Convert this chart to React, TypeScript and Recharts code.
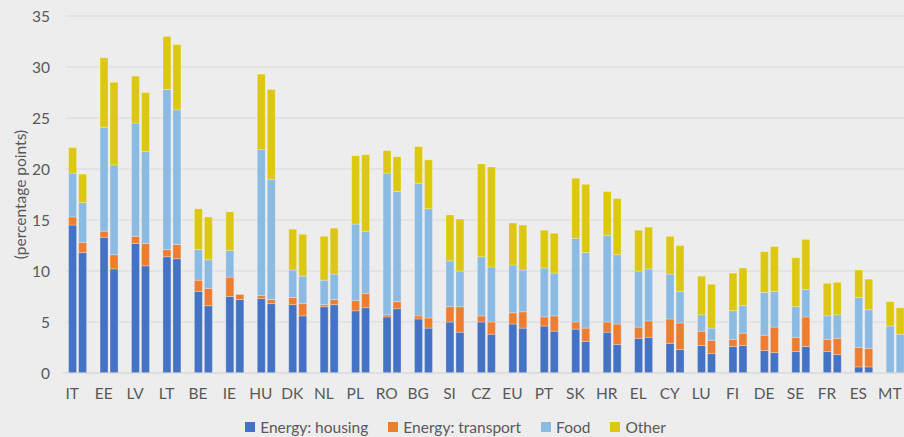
import { BarChart, Bar, CartesianGrid, XAxis, YAxis, Legend } from 'recharts';

const countries = [
  'IT', 'EE', 'LV', 'LT', 'BE', 'IE', 'HU', 'DK', 'NL', 'PL', 'RO', 'BG', 'SI', 'CZ',
  'EU', 'PT', 'SK', 'HR', 'EL', 'CY', 'LU', 'FI', 'DE', 'SE', 'FR', 'ES', 'MT',
];

// first bar of each pair
const housingA = [14.5, 13.3, 12.7, 11.4, 8.0, 7.5, 7.3, 6.7, 6.5, 6.1, 5.5, 5.3, 5.0, 5.0, 4.8, 4.6, 4.3, 4.0, 3.4, 2.9, 2.7, 2.6, 2.2, 2.1, 2.1, 0.6, 0];
const transportA = [0.8, 0.6, 0.7, 0.7, 1.1, 1.9, 0.3, 0.7, 0.2, 1.0, 0.2, 0.3, 1.5, 0.6, 1.1, 0.9, 0.7, 1.0, 1.1, 2.4, 1.4, 0.7, 1.5, 1.4, 1.2, 1.9, 0];
const foodA = [4.3, 10.2, 11.1, 15.7, 3.0, 2.6, 14.3, 2.7, 2.4, 7.5, 13.9, 13.0, 4.5, 5.8, 4.7, 4.8, 8.2, 8.5, 5.5, 4.4, 1.6, 2.8, 4.2, 3.0, 2.3, 4.9, 4.6];
const otherA = [2.5, 6.8, 4.6, 5.2, 4.0, 3.8, 7.4, 4.0, 4.3, 6.7, 2.2, 3.6, 4.5, 9.1, 4.1, 3.7, 5.9, 4.3, 4.0, 3.7, 3.8, 3.7, 4.0, 4.8, 3.2, 2.7, 2.4];

// second bar of each pair
const housingB = [11.8, 10.2, 10.5, 11.2, 6.6, 7.2, 6.8, 5.6, 6.7, 6.4, 6.3, 4.4, 4.0, 3.8, 4.4, 4.1, 3.1, 2.8, 3.5, 2.3, 1.9, 2.7, 2.0, 2.6, 1.8, 0.6, 0];
const transportB = [1.0, 1.4, 2.2, 1.4, 1.7, 0.5, 0.4, 1.2, 0.5, 1.4, 0.7, 1.0, 2.5, 1.2, 1.6, 1.5, 1.3, 2.0, 1.6, 2.6, 1.3, 1.2, 2.5, 2.9, 1.6, 1.8, 0];
const foodB = [3.9, 8.8, 9.0, 13.2, 2.8, 0, 11.8, 2.7, 2.5, 6.1, 10.8, 10.7, 3.5, 5.4, 4.1, 4.2, 7.4, 6.8, 5.1, 3.1, 1.2, 2.7, 3.5, 2.7, 2.3, 3.8, 3.8];
const otherB = [2.8, 8.1, 5.8, 6.4, 4.2, 0, 8.8, 4.1, 4.5, 7.5, 3.4, 4.8, 5.1, 9.8, 4.4, 3.9, 6.7, 5.5, 4.1, 4.5, 4.3, 3.7, 4.4, 4.9, 3.2, 3.0, 2.6];

const yTicks = [0, 5, 10, 15, 20, 25, 30, 35];

const series = [
  { key: 'housing', name: 'Energy: housing', color: '#4472C4' },
  { key: 'transport', name: 'Energy: transport', color: '#ED7D31' },
  { key: 'food', name: 'Food', color: '#8BBAE2' },
  { key: 'other', name: 'Other', color: '#DCC812' },
];

const data = countries.map((c, i) => ({
  country: c,
  housingA: housingA[i],
  transportA: transportA[i],
  foodA: foodA[i],
  otherA: otherA[i],
  housingB: housingB[i],
  transportB: transportB[i],
  foodB: foodB[i],
  otherB: otherB[i],
}));

const font = 'Lato, "Noto Sans", sans-serif';
const textColor = '#595959';

function LegendBox() {
  return (
    <div
      style={{
        display: 'flex',
        justifyContent: 'center',
        alignItems: 'center',
        height: 30,
        paddingTop: 10,
        boxSizing: 'border-box',
        fontFamily: font,
        fontSize: 15.5,
        color: textColor,
      }}
    >
      {series.map((s, i) => (
        <div
          key={s.key}
          style={{ display: 'flex', alignItems: 'center', marginRight: i < series.length - 1 ? 20 : 0 }}
        >
          <span style={{ width: 10, height: 10, background: s.color, marginRight: 5, display: 'inline-block' }} />
          <span>{s.name}</span>
        </div>
      ))}
    </div>
  );
}

// gridlines start a little right of the plot edge, as in the source
const gridLine = (props: any) => (
  <line
    key={`h-${props.y1}`}
    x1={props.x1 + 4}
    x2={props.x2}
    y1={props.y1}
    y2={props.y2}
    stroke="#D9D9D9"
    strokeWidth={1}
  />
);

export default function App() {
  return (
    <div
      style={{
        position: 'absolute',
        left: 0,
        top: 0,
        width: 904,
        height: 437,
        overflow: 'hidden',
        background: '#EDEDED',
      }}
    >
      <BarChart
        width={911}
        height={437}
        data={data}
        margin={{ top: 16, right: 0, bottom: 0, left: 0 }}
        barCategoryGap="21%"
        barGap={2}
      >
        <CartesianGrid vertical={false} horizontal={gridLine} />
        <XAxis
          dataKey="country"
          height={34}
          tickLine={false}
          axisLine={{ stroke: '#D9D9D9' }}
          tickMargin={9}
          interval={0}
          tick={{ fill: textColor, fontSize: 15.5, fontFamily: font, dx: -5.5 }}
        />
        <YAxis
          width={62}
          domain={[0, 35]}
          ticks={yTicks}
          tickLine={false}
          axisLine={false}
          tickMargin={6}
          tick={{ fill: textColor, fontSize: 15.5, fontFamily: font }}
          label={{
            value: '(percentage points)',
            angle: -90,
            position: 'insideLeft',
            offset: 20,
            style: { textAnchor: 'middle', fill: textColor, fontSize: 15.5, fontFamily: font },
          }}
        />
        <Legend verticalAlign="bottom" content={() => <LegendBox />} />
        {series.map((s) => (
          <Bar
            key={s.key + 'A'}
            dataKey={s.key + 'A'}
            name={s.name}
            stackId="a"
            fill={s.color}
            stroke="#ffffff"
            strokeOpacity={0.35}
            strokeWidth={0.8}
            isAnimationActive={false}
          />
        ))}
        {series.map((s) => (
          <Bar
            key={s.key + 'B'}
            dataKey={s.key + 'B'}
            name={s.name}
            stackId="b"
            fill={s.color}
            stroke="#ffffff"
            strokeOpacity={0.35}
            strokeWidth={0.8}
            legendType="none"
            isAnimationActive={false}
          />
        ))}
      </BarChart>
    </div>
  );
}
